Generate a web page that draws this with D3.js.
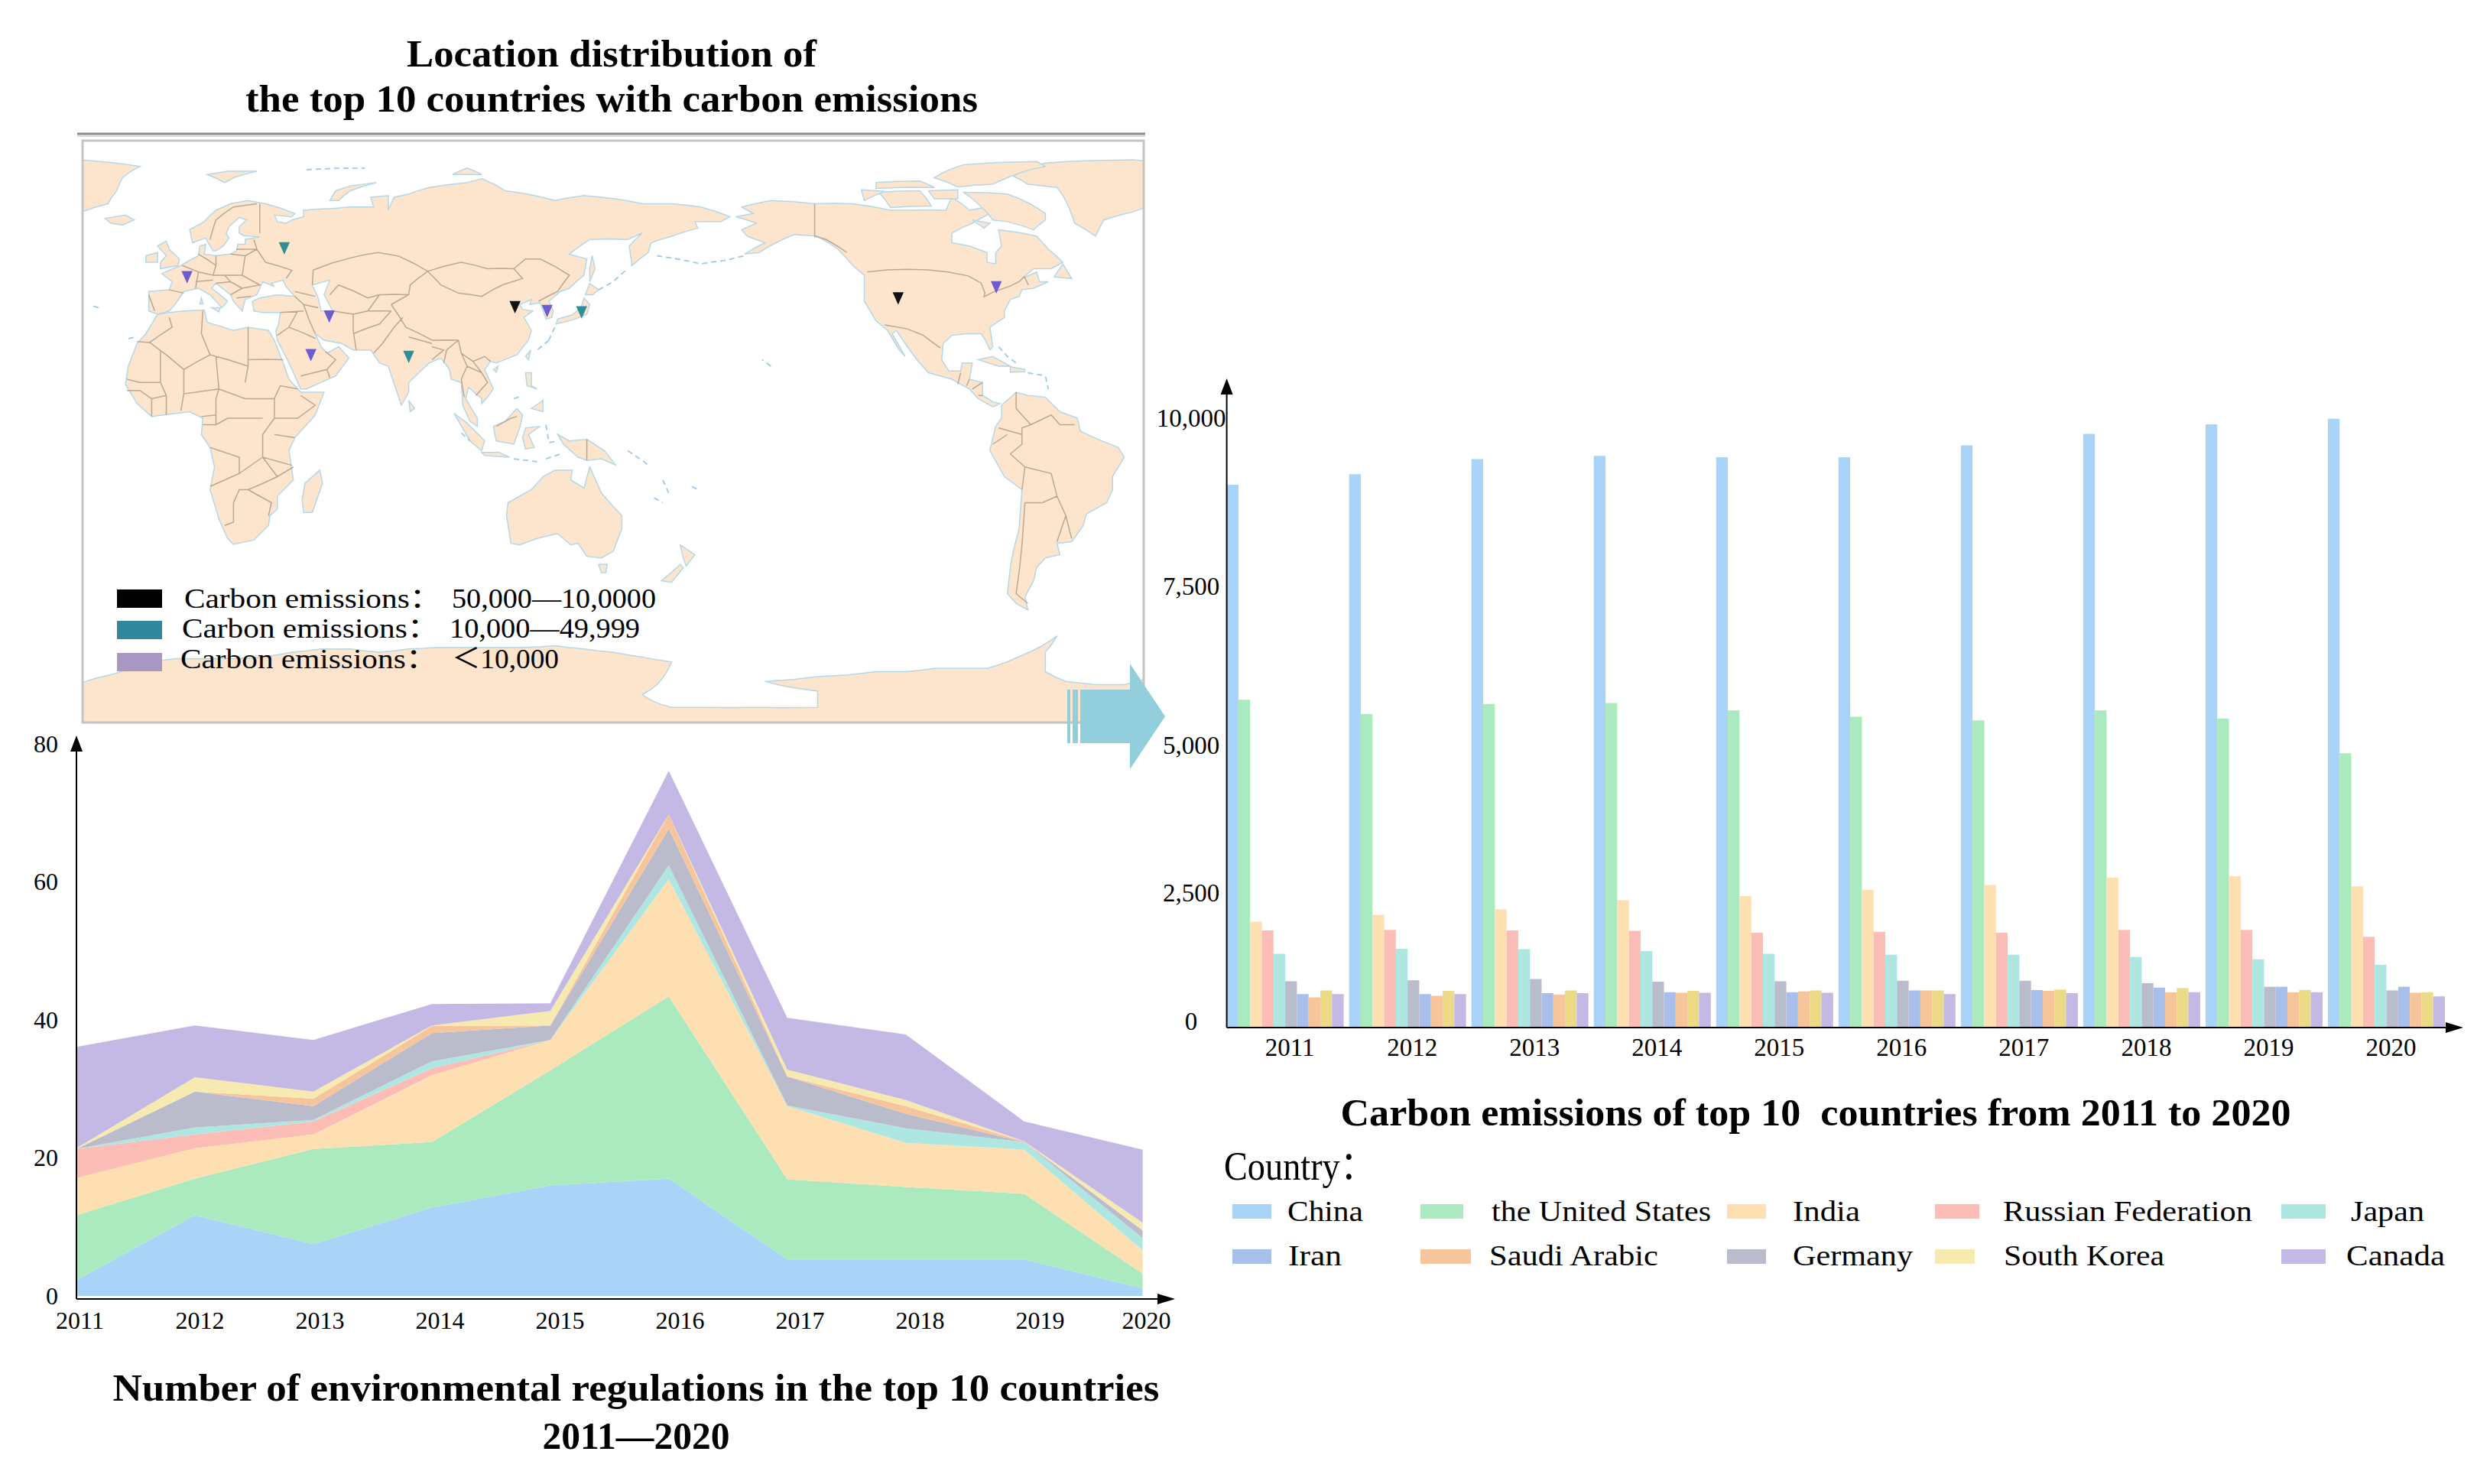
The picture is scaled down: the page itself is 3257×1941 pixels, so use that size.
<!DOCTYPE html>
<html><head><meta charset="utf-8">
<script src="https://cdn.jsdelivr.net/npm/d3@7"></script>
<style>
html,body{margin:0;padding:0;background:#fff}
svg{display:block}
text{font-family:"Liberation Serif","Noto Sans CJK SC",serif;fill:#000}
</style></head><body>
<svg id="c" width="3257" height="1941"></svg>
<script>
// ---------- shared categories ----------
const years = [2011,2012,2013,2014,2015,2016,2017,2018,2019,2020];
const countries = ["China","the United States","India","Russian Federation","Japan","Germany","Iran","Saudi Arabic","South Korea","Canada"];
const colors = ["#A9D3F7","#ABE9BE","#FDDFB1","#FDBDB7","#AEE7E1","#BBBCCB","#A9BFEB","#F6C59B","#F6EAB1","#C4B8E4"];
const barYellow = "#EBDA86";

// ---------- number of environmental regulations (stacked area) ----------
const regChina   = [2.3,11.7,7.5,12.8,16.0,17.0,5.3,5.3,5.3,1.1];
const regUS      = [9.4,5.3,13.8,9.5,16.7,26.4,11.6,10.5,9.5,2.1];
const regIndia   = [5.4,4.4,2.1,9.7,4.4,17.0,10.6,6.4,6.4,3.4];
const regRussia  = [4.2,2.0,1.9,1.0,0,0,0,0,0,0];
const regJapan   = [0,1.0,0.2,1.0,0,2.0,0.1,2.1,1.1,1.8];
const regGermany = [0,5.2,2.0,4.1,2.1,5.3,4.2,2.1,0,1.1];
const regIran    = [0,0,0,0,0,0,0,0,0,0];
const regSaudi   = [0,0,1.1,1.0,0,2.1,0,1.1,0.1,0];
const regKorea   = [0.1,2.1,1.0,0.1,2.1,0,1.0,0.9,0,1.1];
const regCanada  = [14.7,7.5,7.5,3.1,1.1,6.3,7.5,9.5,2.9,10.6];
const regTicks = [0,20,40,60,80];

// ---------- carbon emissions (grouped bars) ----------
const co2China   = [9009,9167,9392,9440,9419,9419,9597,9768,9911,9993];
const co2US      = [5713,5490,5648,5662,5547,5446,5389,5547,5418,4861];
const co2India   = [1970,2098,2201,2371,2448,2554,2639,2763,2786,2616];
const co2Russia  = [1808,1817,1808,1800,1766,1783,1766,1817,1817,1689];
const co2Japan   = [1373,1467,1459,1425,1373,1356,1356,1314,1271,1169];
const co2Germany = [862,879,904,853,862,870,870,827,759,691];
const co2Iran    = [623,623,640,657,657,691,699,742,759,759];
const co2Saudi   = [563,589,614,648,674,691,682,657,657,648];
const co2Korea   = [691,682,691,682,691,691,708,734,699,657];
const co2Canada  = [623,623,640,648,648,623,640,657,657,580];
const co2Ticks = [0,2500,5000,7500,10000];

// ---------- map: emitter locations and their class ----------
const siteNames = ["China","United States","India","Russia","Japan","Iran","Saudi Arabia","France","South Korea","Canada"];
const siteLon   = [116.4,-112.4,80,37.4,139.2,52.8,46.5,4.1,127.4,-78.8];
const siteLat   = [38.8,41.5,23.5,56.9,37.2,35.9,24.0,48.0,37.6,44.9];
const siteClass = [0,0,1,1,1,2,2,2,2,2];
const classColors = ["#111111","#2F8F97","#6E5CCF"];
const classSwatch = ["#000000","#31879B","#A897C0"];
const classText = ["50,000—10,0000","10,000—49,999","＜10,000"];

// ---------- map outlines, longitude/latitude ----------
const landFilled = [
 [[-168,66],[-162,67],[-166,69],[-156,71],[-141,70],[-128,70],[-115,68],[-108,68],[-96,68],[-94,72],[-88,68],[-82,69],[-81,67],[-87,64],[-94,61],[-94,58],[-88,57],[-82,55],[-82,52],[-79,51.5],[-79,55],[-77,57],[-78,62],[-70,61],[-65,60],[-61,56],[-56,52],[-60,50],[-66,50],[-70,47],[-65,49],[-64,46],[-61,46],[-66,44],[-70,43.5],[-71,41.5],[-74,40.5],[-76,37],[-76,35],[-81,32],[-80,26],[-81,25],[-82.5,28],[-84,30],[-89,30],[-94,29.5],[-97,27],[-97.5,22],[-95,18.5],[-91,18.5],[-90.5,21],[-87,21],[-88,16],[-83.5,15],[-83.5,11],[-80,9],[-77.5,8.5],[-80,7.5],[-85,10],[-88,13],[-94,16],[-102,18],[-106,22],[-110,27],[-113,31],[-114.5,30],[-110,23],[-112,25],[-116,31],[-120,34],[-124,40],[-124,48],[-128,51],[-133,56],[-140,60],[-148,60.5],[-152,59],[-160,55],[-165,54.5],[-158,58],[-164,60],[-166,62],[-161,64],[-168,66]],
 [[-77,8],[-72,12],[-68,11],[-62,10.5],[-57,6],[-51,4],[-50,0],[-44,-2.5],[-37,-5],[-35,-8],[-39,-14],[-39,-18],[-41,-22],[-48,-25.5],[-49,-29],[-53,-34],[-58,-34.5],[-57,-38],[-62,-39],[-65,-42],[-66,-46],[-69,-51],[-68,-55],[-72,-53],[-75,-50],[-74,-42],[-73,-37],[-71,-30],[-70,-18],[-76,-14],[-81,-6],[-80,-2],[-79,1.5],[-77,4],[-77,8]],
 [[-6,36],[3,37],[10,37.3],[11,33.5],[20,31],[25,32],[32,31],[34,28],[37,21],[39,16],[43,12],[51,12],[48,5],[41,-2],[39,-6],[40.5,-15],[35,-20],[35,-24],[32.5,-26],[32,-29],[27,-33.5],[20,-34.8],[18,-33],[15,-27],[12,-18],[13.5,-11],[12,-5],[9,-1],[9.5,4],[5,6],[-4,5],[-8,4.5],[-13,8.5],[-17,14.5],[-16,20],[-13,27],[-10,30],[-6,36]],
 [[-9,37],[-9,43],[-2,43.5],[-1,46],[-4.5,48.5],[2,51],[8,54],[8.5,57],[10.5,57.5],[10,54.5],[14,54],[19,54.5],[21,55.5],[21.5,57.5],[24,57.5],[24,59],[29,59.8],[23.5,60.2],[22,61],[22,63],[24.5,65],[22,65.8],[18.5,63],[17.5,60.8],[18.5,59.5],[16.5,57],[14,55.5],[13,55.5],[11,58.5],[10.5,59.5],[6,58],[5,62],[10,64.5],[14,68],[19,70],[25,71],[31,70],[41,67],[40,66],[34,66.5],[35,64.5],[38,64],[40,65],[44,66],[44,68],[54,68.5],[60,69],[68,69],[67,72],[73,72.5],[73,68],[75,72],[80,73],[87,75],[100,76.5],[105,77.7],[113,74],[130,71],[140,72.5],[160,70],[170,70],[180,69],[-170,66],[-173,64.5],[178,64.5],[179,62.5],[170,60],[163,58],[162,55],[156.5,51],[155.5,57],[160,61],[155,59],[142,59],[135,54.5],[141,53],[140,48],[135,44],[132,43],[128,40],[129.5,37],[129,35],[127,34.5],[126,37],[125,39.5],[121.5,39],[122,40.5],[118,39],[119,37.5],[122.5,37],[119.5,35],[122,31],[121,28],[117,23.5],[110,21],[108,21.5],[106,19],[109,13],[107,10.5],[105,8.5],[105,10],[100.5,13.5],[99.5,10],[103.5,4],[103.5,1.5],[101,3],[98.5,8],[98,15],[94.5,16],[94,19],[91,22.5],[87,21],[80,15],[80,12],[77.5,8],[73,20],[70,21],[67,25],[61,25],[57,27],[51,28],[48,30],[50,26],[52,24],[56,26],[59.5,22.5],[55,17],[45,13],[43,13],[39,21],[35,28],[34.5,31],[35.5,33],[36,36.5],[30,36.5],[27,37],[26.5,40],[29,41],[35,42],[41,41.5],[38,44.5],[37,46.5],[33,45.5],[34,44.5],[30,46],[28,42],[24,40.5],[23,37],[20,40],[19,42],[14,45.5],[12.5,44],[18,40],[16,38],[12,42],[8,44],[3,43],[0,39],[-2,37],[-6,36],[-9,37]],
 [[-73,78.5],[-62,82.5],[-32,83.5],[-12,81.5],[-18,78],[-20,74],[-23,70],[-32,67.5],[-42,65],[-44.8,60],[-52,64],[-54,69],[-58,75],[-68,76],[-73,78.5]],
 [[114,-22],[122,-18],[126,-14],[130,-12],[136,-12],[135.5,-15],[140,-17.5],[142,-11],[146,-19],[153,-26],[153,-30],[150,-37],[146,-39],[141,-38.5],[138,-34.5],[135.5,-35],[131,-31.5],[124,-33],[118,-35],[115,-34.5],[113.5,-26],[114,-22]],
 [[49.5,-12],[50.5,-16],[47,-25],[44,-25],[43.5,-21],[44.5,-16],[49.5,-12]],
 [[-5,50],[1,51],[1.5,53],[-2,56],[-3,58.5],[-6,57],[-3,54],[-5,52],[-5,50]],
 [[-10,52],[-6,52],[-6,55],[-10,54],[-10,52]],
 [[-24,65.5],[-22,64],[-18,63.5],[-14,65],[-17,66.5],[-24,65.5]],
 [[131,-1],[135,-3],[141,-2.5],[147,-6],[151,-10.5],[146,-8.5],[141,-9],[138,-8],[133,-4],[131,-1]],
 [[109,1.5],[113,3],[117,7],[119,5],[118,1],[116,-4],[110,-3],[109,1.5]],
 [[80,9.5],[82,7],[80.5,6],[80,9.5]],
 [[145,-41],[148,-41],[147.5,-43.5],[146,-43.5],[145,-41]],
 [[173,-35],[178,-38],[175,-41.5],[174,-39],[173,-35]],
 [[173,-41],[174,-42],[170,-46.5],[166.5,-46],[173,-41]],
 [[130.5,33],[131,34.5],[136,35.8],[139,38],[140,41],[142,39],[141,36],[137,34.5],[133,33.5],[130.5,33]],
 [[140.5,42],[142,45.5],[145,43.5],[143,42],[140.5,42]],
 [[142,46],[143.8,50],[142.8,54],[142,50],[142,46]],
 [[120,18],[122,18],[122,14],[124,13],[120.5,14],[120,18]],
 [[122,7],[126,9.5],[126,6],[122,7]],
 [[95.5,5.5],[100,2.5],[106,-3],[105,-6],[101,-3],[95.5,5.5]],
 [[105,-6.5],[111,-6.5],[114.5,-8],[106,-7.5],[105,-6.5]],
 [[120,1],[125,1.5],[121,-1],[123,-5],[120,-5.5],[119,-2],[120,1]],
 [[120,23],[121.8,25],[121,22],[120,23]],
 [[109,19],[110.6,20],[110,18.2],[109,19]],
 [[-85,22],[-80,23],[-74,20],[-78,20],[-85,22]],
 [[-74,19.8],[-69,19],[-69,18.3],[-74,18.2],[-74,19.8]],
 [[-90,73.5],[-75,73],[-62,67],[-62,65],[-66,62],[-75,64.5],[-80,65],[-85,70],[-90,73.5]],
 [[-119,73.5],[-105,74],[-101,69.3],[-115,68.8],[-119,73.5]],
 [[-125,74.3],[-117,73.8],[-124,71],[-125,74.3]],
 [[-120,76.5],[-105,77],[-100,75],[-120,74.7],[-120,76.5]],
 [[-100,78],[-90,82],[-65,83],[-62,81.5],[-75,78],[-80,76],[-92,75.2],[-100,78]],
 [[-102,74],[-92,74.3],[-92,71.5],[-100,71.5],[-102,74]],
 [[-87,65],[-81,64],[-83,62.5],[-87,65]],
 [[-59,47.5],[-53,47],[-56,51.5],[-59,47.5]],
 [[11,79],[18,80],[28,80],[20,78],[17,76.5],[11,79]],
 [[53,71],[55,74],[60,75.5],[69,76.5],[60,74],[56,71],[53,71]],
 [[95,79],[105,79],[100,81],[95,79]],
 [[9,41],[9.6,39.2],[8.5,39.2],[9,41]],
 [[12.5,38],[15.5,38],[15,36.7],[12.5,38]],
 [[-27,-76],[-10,-71],[0,-70],[10,-70],[20,-70],[30,-69.5],[40,-68],[50,-67],[60,-67],[70,-68],[80,-67],[90,-66.5],[100,-66.5],[110,-66.5],[120,-66.5],[130,-66],[140,-67],[150,-68],[160,-69.5],[170,-71],[165,-78],[160,-81],[170,-85],[180,-85],[-160,-85],[-140,-85],[-140,-80],[-158,-77],[-140,-75.5],[-120,-74],[-110,-74],[-100,-73],[-90,-73],[-82,-73],[-70,-69],[-58,-63],[-62,-68],[-62,-74],[-55,-77],[-45,-78],[-35,-78],[-27,-76]]
];
const inlandWater = [
 [[47,45],[53,46.5],[51,42],[54,37],[50,37],[49,41],[47,45]]
];
const islandLines = [
 [[165,54],[172,53],[180,51.5],[-172,52.5],[-165,54]],
 [[145,43.5],[150,46],[155,50]],
 [[128,28],[124,25]],[[130,32],[128,28]],
 [[-78,26],[-75,23],[-72,21]],[[-68,18],[-62,17],[-61,13]],
 [[155,-6],[160,-9],[162,-10.5]],[[167,-15],[169,-19]],[[177,-17],[179,-18]],[[164,-20.5],[167,-22]],
 [[-156,20],[-159,22]],[[-16,28.5],[-13.5,29]],[[-28,38.5],[-25.5,37.8]],[[45,80.5],[65,81]],
 [[98,-0.5],[101,-3]],[[116,-8.5],[125,-9.5]],[[127,-8.5],[132,-7]],[[127,2],[128,-3.5],[131,-3]],[[116,10],[119,11]]
];
const borders = [
 [[-123,49],[-95.4,49],[-88.4,47.8],[-84,45.6],[-82.7,42.6],[-83,41.4],[-79.7,42.9],[-74.5,44.5],[-71,46],[-69.2,47.6],[-67.8,45]],
 [[-141,70],[-141,60],[-137,59],[-130,55]],
 [[-117,32.7],[-109.3,31.5],[-104,29.6],[-98,25.6]],
 [[-92,14.5],[-91,18]],[[-89,14],[-88,16]],[[-87,13],[-83.5,15]],[[-85,11],[-83.5,11]],
 [[74,39],[80,42],[80.5,45],[86.5,49.2],[91,45],[97,42.5],[105,41.5],[112,45],[119,47],[116,50],[120,53],[125,53],[135,48],[131,43],[128,41.7],[124.5,40]],
 [[74,39],[79,32],[88,28],[97,28],[98,24],[102,21.5],[106,23],[108,21.5]],
 [[86.5,49.2],[98,52],[107,50],[116,50]],
 [[47.3,49.6],[60.8,53.5],[69.5,55],[76.5,53.9],[86.5,49.2]],[[47,45],[47.3,49.6]],
 [[53,42],[56,45],[66,41],[70,42],[80,42]],
 [[54,37],[61,36],[61,31],[62,25]],
 [[61,30],[70,33],[74,37]],[[61,36],[66,37],[74,37]],[[66,37],[70,42]],
 [[68,24],[71,27],[75,32],[78,35]],
 [[44,39],[46,34],[48,30]],[[36,36.5],[44,37]],[[41,41.5],[44,39]],[[44,39],[49,38]],[[48,41.5],[41,43]],
 [[35,29.5],[39,32],[47,29],[48,28.5]],[[39,32],[42,37]],[[43,17],[52,19],[55,22],[51.5,24.5]],[[52,19],[53,16.5]],
 [[-2,43.5],[3,42.5]],[[-9,42],[-7,37]],[[2.5,51],[8,49],[7,44]],
 [[8,54.5],[14,51],[13,48],[17,48],[23,48],[24,54],[28,56],[31,52],[40,49.5],[38,47]],
 [[14,54],[14,51]],[[13,46.5],[7,46]],[[19,42],[23,44],[29,45],[23,48]],[[21,41],[26,41.5]],[[14,45.5],[19,46],[23,44]],[[8,49],[13,48]],[[17,48],[19,46]],
 [[29,61],[29,70]],[[12,59],[14,65],[20,69],[28,70]],[[27,59],[28,56]],[[21,56],[28,56]],[[24,54],[19,54.5]],
 [[-13,27.6],[-8.7,27.3],[3,19],[12,23.5],[25,20],[25,32]],[[-8.7,27.3],[-1,32],[-2,35]],
 [[9.5,37],[9,30],[12,23.5]],[[25,22],[37,22]],[[24,15],[25,20]],[[14,23],[15,13],[14,10]],
 [[3,19],[3,11.5],[2,6.3]],[[-5,25],[-5,15],[-12,15],[-16.5,16]],[[-8,10],[-8,4.5]],[[-3,5],[-3,11],[-5,15]],
 [[3,11.5],[15,13]],[[-12,12.5],[-8,10],[-3,11]],[[-16.5,12.5],[-12,12.5]],
 [[15,13],[24,10],[34,10],[36,14],[42,13]],[[34,10],[34,4],[42,4],[48,8],[43,11]],
 [[34,4],[30,-1],[30,-8],[40,-10.5]],[[34,-1],[41,-2]],[[14,5],[9,4.5]],[[14,10],[14,2],[9.5,2]],[[14,2],[18,4],[30,4]],
 [[12,-5],[22,-8],[22,-13],[12,-17]],[[22,-13],[30,-8]],[[25,-18],[22,-18],[20,-22],[20,-28],[17,-29]],
 [[25,-18],[33,-22],[32,-26]],[[25,-18],[35,-14]],[[30,-8],[35,-14],[40.5,-11]],
 [[-70,-18],[-69,-11],[-74,-7],[-70,-4],[-70,1],[-67,2],[-60,5],[-57,2],[-52,2]],[[-78,1],[-70,-1]],[[-72,12],[-72,7],[-67,2]],[[-80,-4],[-75,-1]],
 [[-69,-11],[-60,-13],[-58,-20],[-63,-22],[-69,-22]],[[-69,-22],[-70,-35],[-72,-50],[-68,-53]],[[-58,-20],[-55,-26],[-58,-34]],[[-55,-26],[-53,-33]],
 [[92,21],[93,25],[97,28]],[[98,24],[100,20],[98,16],[99,10.5]],[[100,20],[105,18],[107,15],[103,11]],[[102,21.5],[105,18]],[[88,26],[92,25],[88,22]],[[80,29],[88,27]],
 [[141,-2.5],[141,-9]],[[110,1.5],[115,4],[117,4.5]]
];

const svg = d3.select("#c");

function label(txt,x,y,opt={}){
  const t = svg.append("text").text(txt).attr("x",x).attr("y",y)
    .attr("font-size",opt.size||36).attr("text-anchor",opt.anchor||"start")
    .attr("font-weight",opt.weight||"normal").attr("xml:space","preserve");
  if(opt.len) t.attr("textLength",opt.len).attr("lengthAdjust","spacingAndGlyphs");
  return t;
}
function arrowAxis(x1,y1,x2,y2,dir){
  svg.append("line").attr("x1",x1).attr("y1",y1).attr("x2",x2).attr("y2",y2).attr("stroke","#000").attr("stroke-width",2);
  const p = dir==="up" ? [[x2,y2-21],[x2-8,y2],[x2+8,y2]] : [[x2+23,y2],[x2,y2-7],[x2,y2+7]];
  svg.append("path").attr("d",d3.line()(p)+"Z").attr("fill","#000");
}

// ==== MAP (Pacific-centred lon/lat grid, two half panels so both edges stay filled) ====
const mapL=108,mapR=1496,mapT=184,mapB=945,mapMid=802;
const pxPerDeg=3.82, midLon=150, stretchY=1.1126;
const makeProj=c=>d3.geoProjection((l,p)=>[l,p*stretchY]).rotate([-c,0]).scale(pxPerDeg*180/Math.PI)
  .translate([mapMid+(c-midLon)*pxPerDeg,564]).precision(0.3);
const poly=r=>{let f={type:"Polygon",coordinates:[r]};
  if(d3.geoArea(f)>2*Math.PI) f={type:"Polygon",coordinates:[r.slice().reverse()]};return f;};
svg.append("line").attr("x1",101).attr("x2",1498).attr("y1",175).attr("y2",175).attr("stroke","#8a8a8a").attr("stroke-width",3);
svg.append("line").attr("x1",101).attr("x2",1498).attr("y1",178).attr("y2",178).attr("stroke","#d0d0d0").attr("stroke-width",1.5);
svg.append("rect").attr("x",mapL).attr("y",mapT).attr("width",mapR-mapL).attr("height",mapB-mapT).attr("fill","#fff");
const defs=svg.append("defs");
[["mapA",mapL,mapMid-mapL,midLon-20],["mapB",mapMid,mapR-mapMid,midLon+20]].forEach(([id,x,w,c])=>{
  defs.append("clipPath").attr("id",id).append("rect").attr("x",x).attr("y",mapT).attr("width",w).attr("height",mapB-mapT);
  const geo=d3.geoPath(makeProj(c));
  const g=svg.append("g").attr("clip-path",`url(#${id})`);
  g.selectAll("path.land").data(landFilled).join("path").attr("class","land").attr("d",r=>geo(poly(r)))
    .attr("fill","#FCE5CC").attr("stroke","#B4D8E8").attr("stroke-width",1.5);
  g.selectAll("path.water").data(inlandWater).join("path").attr("class","water").attr("d",r=>geo(poly(r)))
    .attr("fill","#fff").attr("stroke","#B4D8E8").attr("stroke-width",1.4);
  g.append("path").attr("d",geo({type:"MultiLineString",coordinates:islandLines}))
    .attr("fill","none").attr("stroke","#9CCBE2").attr("stroke-width",1.8).attr("stroke-dasharray","7 5");
  g.append("path").attr("d",geo({type:"MultiLineString",coordinates:borders}))
    .attr("fill","none").attr("stroke","#BBA893").attr("stroke-width",1.5);
});
svg.append("rect").attr("x",mapL).attr("y",mapT).attr("width",mapR-mapL).attr("height",mapB-mapT)
  .attr("fill","none").attr("stroke","#c4c4c4").attr("stroke-width",3);
const proj=makeProj(midLon);
const tri=d3.symbol().type(d3.symbolTriangle).size(90);
svg.append("g").selectAll("path").data(siteLon.map((lon,i)=>i)).join("path")
  .attr("d",tri).attr("fill",i=>classColors[siteClass[i]])
  .attr("transform",i=>{const p=proj([siteLon[i],siteLat[i]]);return `translate(${p[0]},${p[1]}) scale(1,-1.3)`;});
const legX=[241,238,236], legNumX=[591,588,591], legNumW=[267,249,140], legY=[795,834,874], legSwY=[771,812,854];
classText.forEach((t,i)=>{
  svg.append("rect").attr("x",153).attr("y",legSwY[i]).attr("width",59).attr("height",24).attr("fill",classSwatch[i]);
  label("Carbon emissions：",legX[i],legY[i],{size:36,len:336});
  label(t,legNumX[i],legY[i],{size:36,len:legNumW[i]});
});

// Titles
label("Location distribution of",800,87,{size:50,anchor:"middle",weight:"bold",len:536});
label("the top 10 countries with carbon emissions",800,146,{size:50,anchor:"middle",weight:"bold",len:958});

// ==== STACKED AREA ====
const regSeries=[regChina,regUS,regIndia,regRussia,regJapan,regGermany,regIran,regSaudi,regKorea,regCanada];
const regTable=years.map((y,i)=>{const o={year:y};countries.forEach((c,k)=>o[c]=regSeries[k][i]);return o;});
const stack=d3.stack().keys(countries)(regTable);
const ax=d3.scalePoint().domain(years).range([100,1494.6]);
const ay=d3.scaleLinear().domain([0,80]).range([1695,973]);
const area=d3.area().x(d=>ax(d.data.year)).y0(d=>ay(d[0])).y1(d=>ay(d[1]));
svg.append("g").selectAll("path").data(stack).join("path").attr("d",area).attr("fill",(d,i)=>colors[i]);
arrowAxis(100,1699,100,983,"up");
arrowAxis(100,1699,1514,1699,"right");
const ayAxis=svg.append("g").attr("transform","translate(84,0)").call(d3.axisLeft(ay).tickValues(regTicks).tickSize(0).tickFormat(d3.format("d")));
ayAxis.select(".domain").remove();
ayAxis.selectAll("text").attr("font-size",32).attr("x",-8);
ayAxis.attr("font-family",null);
const axLab=d3.scalePoint().domain(years).range([104,1517]);
const axAxis=svg.append("g").attr("transform","translate(0,1712)").call(d3.axisBottom(axLab).tickSize(0).tickFormat(d3.format("d")));
axAxis.attr("font-family",null); axAxis.select(".domain").remove();
axAxis.selectAll("text").attr("font-size",32).attr("y",0).attr("dy","0.8em");
axAxis.selectAll(".tick").filter(d=>d===2020).select("text").attr("x",-18);
label("Number of environmental regulations in the top 10 countries",832,1832,{size:50,anchor:"middle",weight:"bold",len:1369});
label("2011—2020",832,1895,{size:50,anchor:"middle",weight:"bold",len:245});

// ==== GROUPED BARS ====
const co2Series=[co2China,co2US,co2India,co2Russia,co2Japan,co2Germany,co2Iran,co2Saudi,co2Korea,co2Canada];
const bx=d3.scaleBand().domain(years).range([1604.6,3198]).paddingInner(0.044).paddingOuter(0).align(0);
const bi=d3.scaleBand().domain(countries).range([0,bx.bandwidth()]);
// the value axis of the reference has unevenly spaced labels: keep each tick where the picture has it
const by=d3.scaleLinear().domain(co2Ticks).range([1344,1168.3,974.6,766.6,547.1]);
const barFill=(c,i)=>c==="South Korea"?barYellow:colors[i];
svg.append("g").selectAll("g").data(countries).join("g").attr("fill",barFill)
  .selectAll("rect").data((c,k)=>co2Series[k].map((v,i)=>({c,v,y:years[i]}))).join("rect")
  .attr("x",d=>bx(d.y)+bi(d.c)).attr("width",bi.bandwidth())
  .attr("y",d=>by(d.v)).attr("height",d=>by(0)-by(d.v));
arrowAxis(1604.6,1344,1604.6,516,"up");
arrowAxis(1604.6,1344,3199,1344,"right");
const byAxis=svg.append("g").attr("transform","translate(1558,0)").call(d3.axisLeft(by).tickValues(co2Ticks).tickSize(0).tickFormat(d3.format(",")));
byAxis.attr("font-family",null); byAxis.select(".domain").remove();
byAxis.selectAll("text").attr("font-size",33).attr("x",0).attr("text-anchor","middle");
byAxis.selectAll(".tick").filter(d=>d===0).select("text").attr("y",-8);
const bxAxis=svg.append("g").attr("transform","translate(6,1355)").call(d3.axisBottom(bx).tickSize(0).tickFormat(d3.format("d")));
bxAxis.attr("font-family",null); bxAxis.select(".domain").remove();
bxAxis.selectAll("text").attr("font-size",33).attr("y",0).attr("dy","0.8em");
label("Carbon emissions of top 10  countries from 2011 to 2020",2375,1472,{size:50,anchor:"middle",weight:"bold",len:1243});
label("Country：",1601,1543,{size:52,len:198});

// Legend of countries
const legendOrder=["China","the United States","India","Russian Federation","Japan","Iran","Saudi Arabic","Germany","South Korea","Canada"];
const swX=[1612,1858,2259,2531,2984], swW=[51,56,51,58,58], swW2=[51,66,51,52,58];
const txX=[1684,1951,2345,2620,3075], txX2=[1685,1948,2345,2621,3069];
const txW=[99,287,88,326,96], txW2=[70,221,157,210,129];
legendOrder.forEach((name,i)=>{
  const row=i<5?0:1, col=i%5, ci=countries.indexOf(name);
  svg.append("rect").attr("x",swX[col]).attr("y",row?1634:1575).attr("width",row?swW2[col]:swW[col]).attr("height",19).attr("fill",colors[ci]);
  label(name,row?txX2[col]:txX[col],row?1655:1597,{size:38,len:row?txW2[col]:txW[col]});
});

// Arrow between panels
const arrowPts=[[1413,902],[1478,902],[1478,868],[1524,937],[1478,1006],[1478,972],[1413,972]];
svg.append("path").attr("d",d3.line()(arrowPts)+"Z").attr("fill","#92CEDC");
svg.append("rect").attr("x",1396).attr("y",902).attr("width",4).attr("height",70).attr("fill","#92CEDC");
svg.append("rect").attr("x",1403).attr("y",902).attr("width",7).attr("height",70).attr("fill","#92CEDC");
</script>
</body></html>
